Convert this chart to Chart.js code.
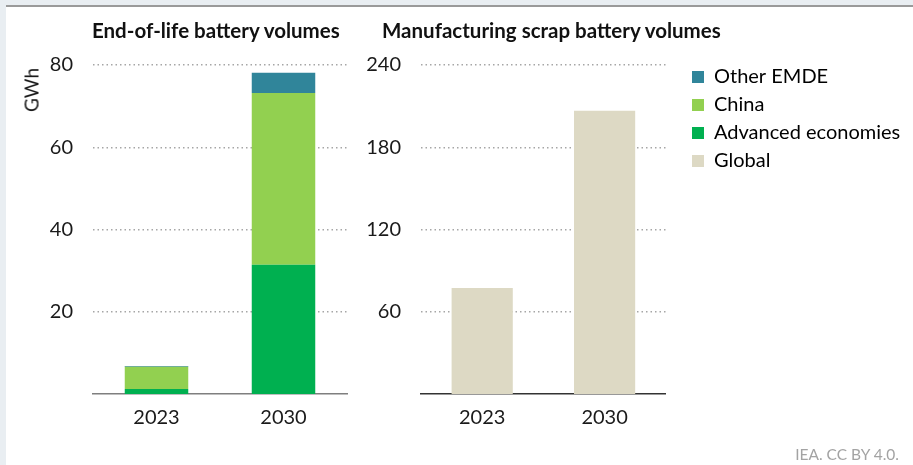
<!DOCTYPE html>
<html>
<head>
<meta charset="utf-8">
<title>Battery volumes for recycling</title>
<script src="https://cdn.jsdelivr.net/npm/chart.js@4.4.1/dist/chart.umd.min.js"></script>
<style>
  html, body { margin: 0; padding: 0; }
  body { width: 913px; height: 465px; background: #e9eef2; position: relative; overflow: hidden; font-family: Lato, "Open Sans", sans-serif; }
  #panel { position: absolute; left: 6px; top: 5px; right: 0; bottom: 0; background: #fff; border-top: 2px solid #9a9a9a; }
  canvas { position: absolute; top: 0; }
  #eol { left: 0; }
  #scrap { left: 360px; }
  .title { position: absolute; top: 18px; font-weight: 700; font-size: 20.5px; color: #111; white-space: nowrap; }
  #unit { position: absolute; left: 31px; top: 90px; transform: translate(-50%, -50%) rotate(-90deg); font-size: 19px; color: #1a1a1a; }
  #source { position: absolute; right: 14px; top: 445px; font-size: 15.5px; color: #a3a3a3; }
</style>
</head>
<body>
<div id="panel"></div>
<canvas id="eol" width="365" height="465"></canvas>
<canvas id="scrap" width="553" height="465"></canvas>
<div class="title" style="left:92px">End-of-life battery volumes</div>
<div class="title" style="left:382px">Manufacturing scrap battery volumes</div>
<div id="unit">GWh</div>
<div id="source">IEA. CC BY 4.0.</div>

<script>
// GWh by year
const years = ['2023', '2030'];
const advanced = [1.2, 31.4];
const china = [5.4, 41.8];
const otherEmde = [0.2, 4.9];
const scrapGlobal = [77.4, 206.6];

const eolTicks = [20, 40, 60, 80];
const scrapTicks = [60, 120, 180, 240];

const legendNames = ['Other EMDE', 'China', 'Advanced economies', 'Global'];
const legendColors = ['#30859a', '#92d050', '#00b050', '#ddd9c4'];

Chart.defaults.font.family = 'Lato, "Open Sans", sans-serif';
Chart.defaults.font.size = 20;
Chart.defaults.color = '#1a1a1a';
Chart.defaults.animation = false;

// value axis: dotted grid at the listed ticks only, fixed label column width
function valueAxis(max, ticks, width) {
  return {
    min: 0,
    max: max,
    afterBuildTicks: s => { s.ticks = ticks.map(v => ({ value: v })); },
    afterFit: s => { s.width = width; },
    ticks: { padding: 20 },
    grid: { color: '#a6a6a6', lineWidth: 1.5, drawTicks: false },
    border: { display: false, dash: [1.5, 3] }
  };
}

function yearAxis(lineColor) {
  return {
    grid: { display: false, drawTicks: false },
    border: { display: true, color: lineColor, width: 1.5 },
    ticks: { padding: 12 },
    afterFit: s => { s.height = 71; }
  };
}

new Chart(document.getElementById('eol'), {
  type: 'bar',
  data: {
    labels: years,
    datasets: [
      { label: 'Advanced economies', data: advanced, backgroundColor: legendColors[2] },
      { label: 'China', data: china, backgroundColor: legendColors[1] },
      { label: 'Other EMDE', data: otherEmde, backgroundColor: legendColors[0] }
    ]
  },
  options: {
    responsive: false,
    layout: { padding: { top: 65, right: 18, left: 0, bottom: 0 } },
    datasets: { bar: { categoryPercentage: 1, barPercentage: 0.5 } },
    plugins: { legend: { display: false }, tooltip: { enabled: false } },
    scales: {
      x: Object.assign(yearAxis('#7f7f7f'), { stacked: true }),
      y: Object.assign(valueAxis(80, eolTicks, 93), { stacked: true })
    }
  }
});

// slide the legend box into place after layout, keeps the plot width as is
const legendSpot = {
  id: 'legendSpot',
  afterLayout(chart) {
    const lg = chart.legend;
    const dx = 324 - lg.left, dy = 59 - lg.top;
    lg.left += dx; lg.right += dx;
    lg.top += dy; lg.bottom += dy;
  }
};

new Chart(document.getElementById('scrap'), {
  type: 'bar',
  data: {
    labels: years,
    datasets: [
      { label: 'Global', data: scrapGlobal, backgroundColor: legendColors[3] }
    ]
  },
  options: {
    responsive: false,
    layout: { padding: { top: 65, right: 21, left: 0, bottom: 0 } },
    datasets: { bar: { categoryPercentage: 1, barPercentage: 0.5 } },
    plugins: {
      tooltip: { enabled: false },
      legend: {
        position: 'right',
        align: 'start',
        maxWidth: 260,
        labels: {
          boxWidth: 12,
          boxHeight: 12,
          padding: 8,
          color: '#1a1a1a',
          font: { size: 20 },
          generateLabels: () => legendNames.map((t, i) => ({
            text: t, fillStyle: legendColors[i], strokeStyle: legendColors[i], lineWidth: 0, hidden: false
          }))
        }
      }
    },
    scales: {
      x: yearAxis('#333333'),
      y: valueAxis(240, scrapTicks, 61)
    }
  },
  plugins: [legendSpot]
});
</script>
</body>
</html>
